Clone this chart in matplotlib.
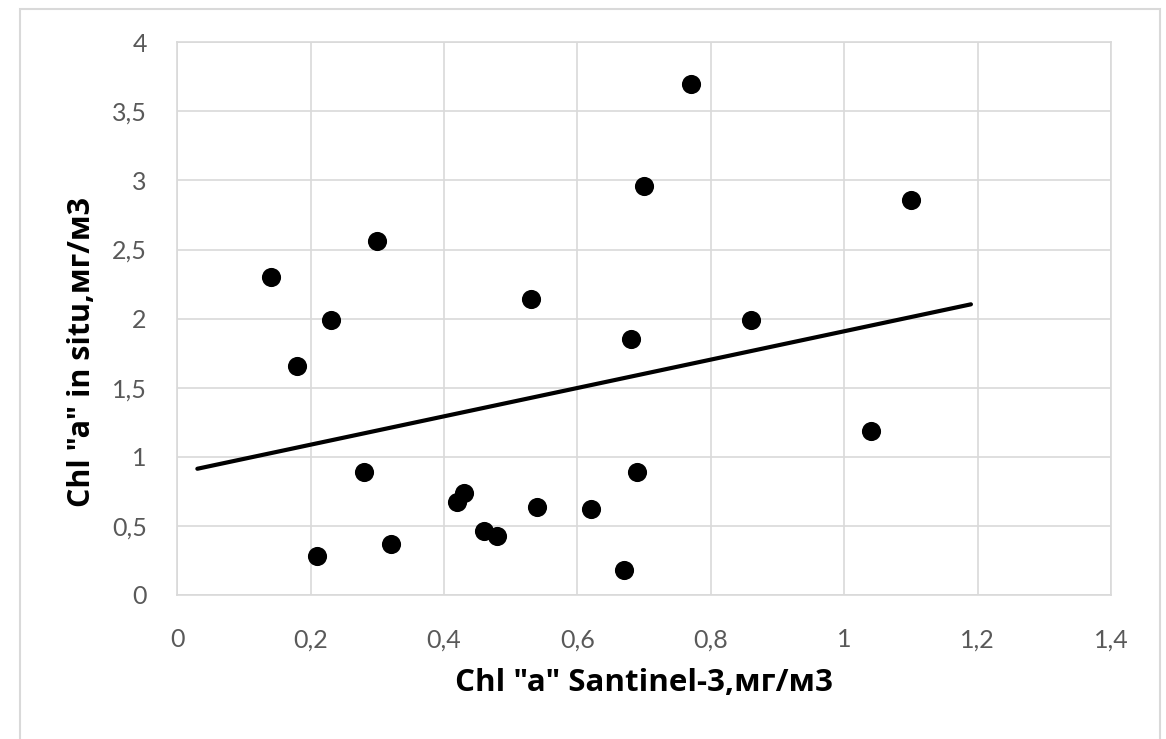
# -*- coding: utf-8 -*-
import numpy as np
import matplotlib as mpl

mpl.use('Agg')
import matplotlib.pyplot as plt
from matplotlib.patches import Rectangle
from matplotlib.ticker import FuncFormatter

# Chl "a" pairs: satellite estimate vs in situ measurement
sentinel = np.array([0.14, 0.18, 0.21, 0.23, 0.28, 0.30, 0.32, 0.42, 0.43, 0.46, 0.48,
                     0.53, 0.54, 0.62, 0.67, 0.68, 0.69, 0.70, 0.77, 0.86, 1.04, 1.10])
in_situ = np.array([2.30, 1.66, 0.28, 1.99, 0.89, 2.56, 0.37, 0.67, 0.74, 0.46, 0.43,
                    2.14, 0.64, 0.62, 0.18, 1.85, 0.89, 2.96, 3.70, 1.99, 1.19, 2.86])

x_ticks = [0, 0.2, 0.4, 0.6, 0.8, 1.0, 1.2, 1.4]
y_ticks = [0, 0.5, 1, 1.5, 2, 2.5, 3, 3.5, 4]

# trendline forecast backward / forward
trend_back = 0.11
trend_fwd = 0.09

plt.rcParams['font.family'] = ['Lato', 'Open Sans', 'DejaVu Sans']

grid_col = '#d9d9d9'
tick_col = '#595959'


def comma(v, pos):
    s = ('%g' % v)
    return s.replace('.', ',')


fig = plt.figure(figsize=(11.66, 7.39), dpi=100)
ax = fig.add_axes([0.1521, 0.1949, 0.8007, 0.7479])

ax.scatter(sentinel, in_situ, s=190, color='black', zorder=3, linewidths=0)

k, b = np.polyfit(sentinel, in_situ, 1)
tx = np.array([sentinel.min() - trend_back, sentinel.max() + trend_fwd])
ax.plot(tx, k * tx + b, color='black', lw=3.0, solid_capstyle='round', zorder=2)

ax.set_xlim(0, 1.4)
ax.set_ylim(0, 4)
ax.set_xticks(x_ticks)
ax.set_yticks(y_ticks)
ax.xaxis.set_major_formatter(FuncFormatter(comma))
ax.yaxis.set_major_formatter(FuncFormatter(comma))
ax.tick_params(length=0, labelsize=18, colors=tick_col)
ax.tick_params(axis='x', pad=24)
ax.tick_params(axis='y', pad=22)

ax.grid(True, color=grid_col, lw=1.2)
ax.set_axisbelow(True)
for sp in ax.spines.values():
    sp.set_color(grid_col)
    sp.set_linewidth(1.2)

ax.set_xlabel('Chl "a" Santinel-3,мг/м3', fontsize=22.5, fontweight='bold',
              family=['Open Sans', 'DejaVu Sans'])
ax.set_ylabel('Chl "a" in situ,мг/м3', fontsize=22, fontweight='bold',
              family=['Open Sans', 'DejaVu Sans'])
ax.xaxis.set_label_coords(0.5, -0.132)
ax.yaxis.set_label_coords(-0.086, 0.44)

# chart frame
W, H = 1166, 739
fig.patches.append(Rectangle((20 / W, -0.05), 1140 / W, 1.05 - 9 / H,
                             transform=fig.transFigure, fill=False,
                             edgecolor=grid_col, lw=1.5))

fig.savefig('out.png', dpi=100)
